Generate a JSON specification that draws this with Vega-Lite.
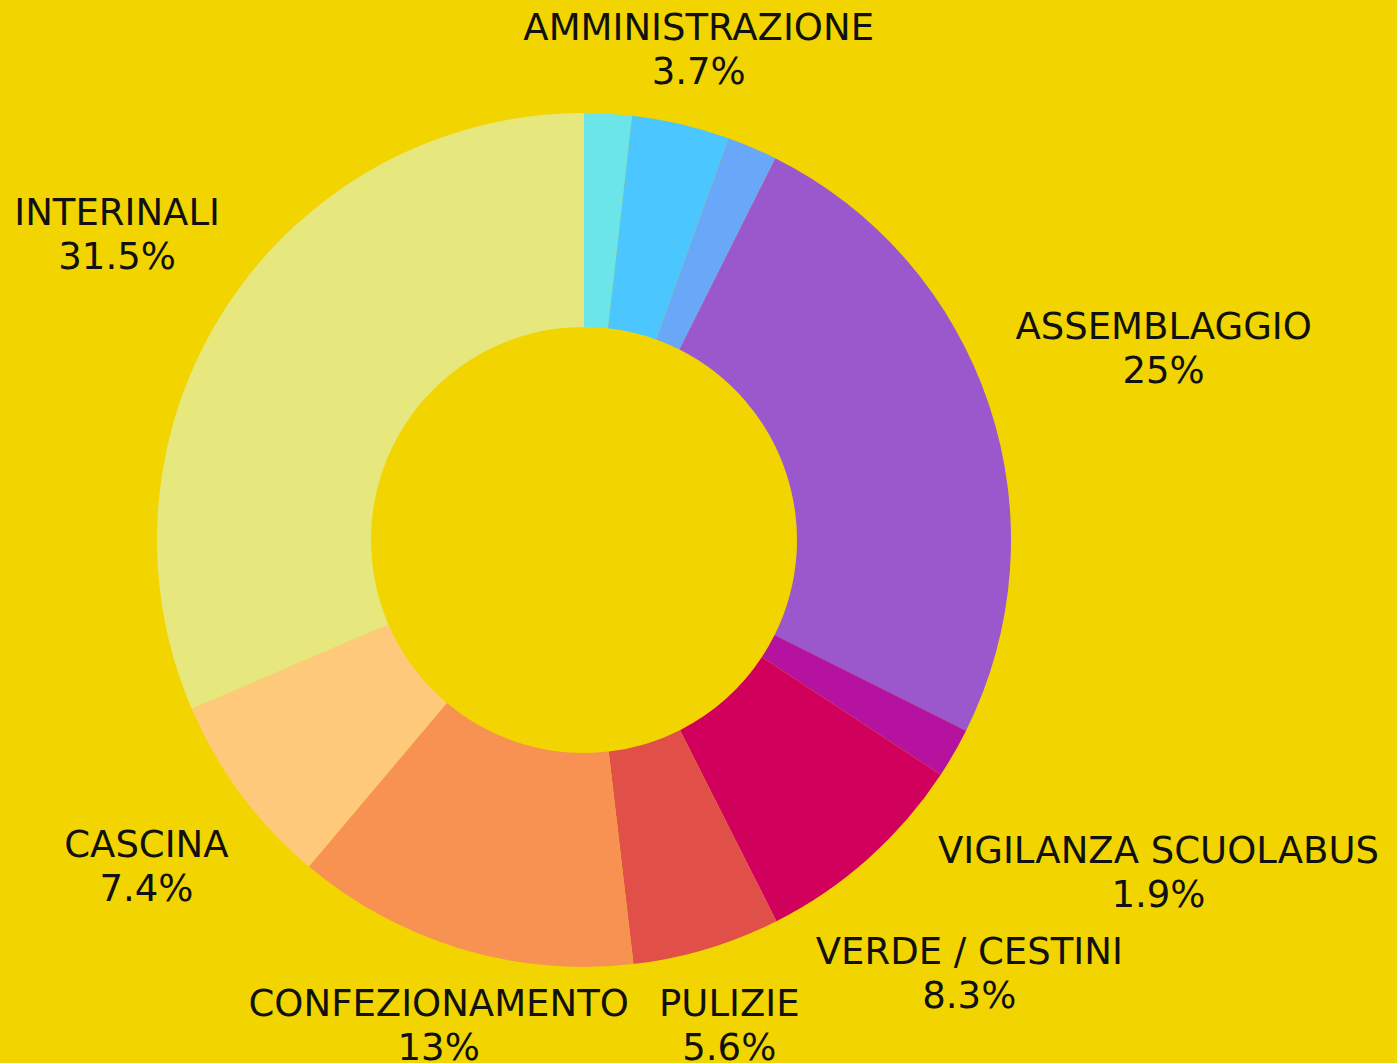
{
  "$schema": "https://vega.github.io/schema/vega-lite/v6.json",
  "width": 1168,
  "height": 1046,
  "autosize": "none",
  "padding": {"left": 0, "top": 17, "right": 229, "bottom": 0},
  "background": "#F2D500",
  "config": {"view": {"stroke": null}, "text": {"font": "DejaVu Sans", "fontSize": 37, "lineBreak": "\n", "lineHeight": 44, "align": "center", "baseline": "middle", "fill": "#111111", "dy": -19}},
  "data": {
    "values": [
      {"idx": 1, "name": "ALTRO 1", "value": 1.8, "label": ""},
      {"idx": 2, "name": "AMMINISTRAZIONE", "value": 3.7, "label": "AMMINISTRAZIONE\n3.7%"},
      {"idx": 3, "name": "ALTRO 2", "value": 1.9, "label": ""},
      {"idx": 4, "name": "ASSEMBLAGGIO", "value": 25, "label": "ASSEMBLAGGIO\n25%"},
      {"idx": 5, "name": "VIGILANZA SCUOLABUS", "value": 1.9, "label": "VIGILANZA SCUOLABUS\n1.9%"},
      {"idx": 6, "name": "VERDE / CESTINI", "value": 8.3, "label": "VERDE / CESTINI\n8.3%"},
      {"idx": 7, "name": "PULIZIE", "value": 5.6, "label": "PULIZIE\n5.6%"},
      {"idx": 8, "name": "CONFEZIONAMENTO", "value": 13, "label": "CONFEZIONAMENTO\n13%"},
      {"idx": 9, "name": "CASCINA", "value": 7.4, "label": "CASCINA\n7.4%"},
      {"idx": 10, "name": "INTERINALI", "value": 31.5, "label": "INTERINALI\n31.5%"}
    ]
  },
  "encoding": {
    "theta": {"field": "value", "type": "quantitative", "stack": true},
    "order": {"field": "idx", "type": "quantitative"}
  },
  "layer": [
    {
      "mark": {"type": "arc", "outerRadius": 427, "innerRadius": 213, "strokeWidth": 0},
      "encoding": {
        "color": {
          "field": "name",
          "type": "nominal",
          "legend": null,
          "scale": {
            "domain": ["ALTRO 1", "AMMINISTRAZIONE", "ALTRO 2", "ASSEMBLAGGIO", "VIGILANZA SCUOLABUS", "VERDE / CESTINI", "PULIZIE", "CONFEZIONAMENTO", "CASCINA", "INTERINALI"],
            "range": ["#6CE5E8", "#4BC6FE", "#69A8F8", "#9A58CC", "#B612A0", "#D1005D", "#E05048", "#F79252", "#FFC97B", "#E6E77D"]
          }
        }
      }
    },
    {
      "mark": {"type": "text", "radius": 505},
      "encoding": {"text": {"condition": {"test": "indexof(['AMMINISTRAZIONE','PULIZIE','CONFEZIONAMENTO'], datum.name) >= 0", "field": "label", "type": "nominal"}, "value": ""}}
    },
    {
      "mark": {"type": "text", "radius": 545},
      "encoding": {"text": {"condition": {"test": "datum.name === 'CASCINA'", "field": "label", "type": "nominal"}, "value": ""}}
    },
    {
      "mark": {"type": "text", "radius": 559},
      "encoding": {"text": {"condition": {"test": "datum.name === 'INTERINALI'", "field": "label", "type": "nominal"}, "value": ""}}
    },
    {
      "mark": {"type": "text", "radius": 579},
      "encoding": {"text": {"condition": {"test": "datum.name === 'VERDE / CESTINI'", "field": "label", "type": "nominal"}, "value": ""}}
    },
    {
      "mark": {"type": "text", "radius": 611},
      "encoding": {"text": {"condition": {"test": "datum.name === 'ASSEMBLAGGIO'", "field": "label", "type": "nominal"}, "value": ""}}
    },
    {
      "mark": {"type": "text", "radius": 663},
      "encoding": {"text": {"condition": {"test": "datum.name === 'VIGILANZA SCUOLABUS'", "field": "label", "type": "nominal"}, "value": ""}}
    }
  ]
}
